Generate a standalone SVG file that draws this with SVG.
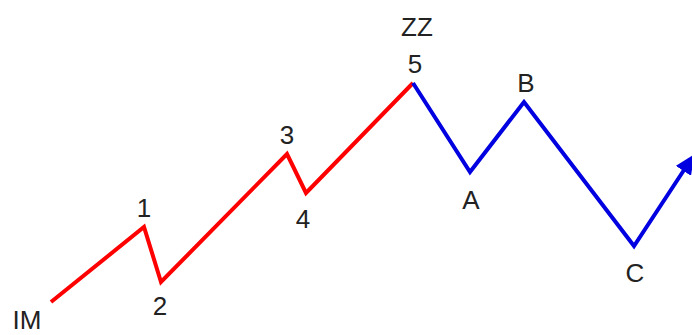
<svg xmlns="http://www.w3.org/2000/svg" width="692" height="335" viewBox="0 0 692 335">
<style>
.t{font-family:"Liberation Sans",Arial,sans-serif;font-size:26px;fill:#222;text-anchor:middle}
.r{fill:none;stroke:#f00;stroke-width:4;stroke-linejoin:miter}
.b{fill:none;stroke:#0000e0;stroke-width:4;stroke-linejoin:miter}
</style>
<defs>
<marker id="ah" markerWidth="20" markerHeight="18" refX="1" refY="9" orient="auto" markerUnits="userSpaceOnUse">
<path d="M0,0 L20,9 L0,18 Z" fill="#0000e0"/>
</marker>
</defs>
<rect width="692" height="335" fill="#fff"/>
<g id="connectors">
<polyline class="r" points="51,302 144,227 161,282 287,154 306,193 413,83"/>
<polyline class="b" points="413,83 470,172 524,102 634,246 684,170" marker-end="url(#ah)"/>
</g>
<g id="IM"><text class="t" x="27" y="329">IM</text></g>
<g id="n1"><text class="t" x="144" y="217">1</text></g>
<g id="n2"><text class="t" x="160" y="315">2</text></g>
<g id="n3"><text class="t" x="287" y="144">3</text></g>
<g id="n4"><text class="t" x="303" y="228">4</text></g>
<g id="ZZ"><text class="t" x="417" y="36">ZZ</text></g>
<g id="n5"><text class="t" x="415" y="73">5</text></g>
<g id="A"><text class="t" x="471" y="209">A</text></g>
<g id="B"><text class="t" x="526" y="92">B</text></g>
<g id="C"><text class="t" x="635" y="282">C</text></g>
</svg>
